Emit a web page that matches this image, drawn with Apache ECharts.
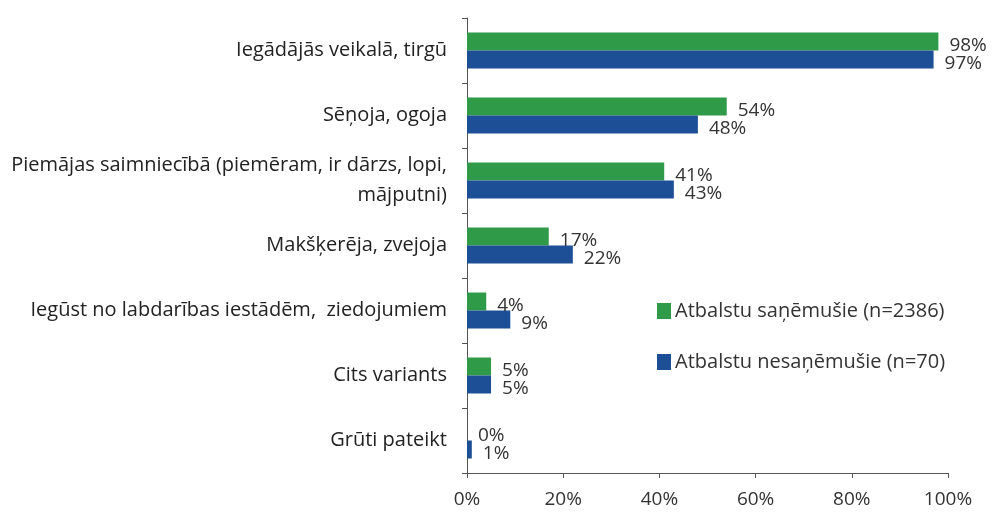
<!DOCTYPE html>
<html>
<head>
<meta charset="utf-8">
<script src="https://cdn.jsdelivr.net/npm/echarts@6/dist/echarts.min.js"></script>
<style>
  html,body{margin:0;padding:0;background:#fff;}
  #chart{width:995px;height:521px;}
</style>
</head>
<body>
<div id="chart"></div>
<script>
  // kategorijas
  var categories=[
    "Iegādājās veikalā, tirgū",
    "Sēņoja, ogoja",
    "Piemājas saimniecībā (piemēram, ir dārzs, lopi,\nmājputni)",
    "Makšķerēja, zvejoja",
    "Iegūst no labdarības iestādēm,  ziedojumiem",
    "Cits variants",
    "Grūti pateikt"
  ];
  var seriesNames=["Atbalstu saņēmušie (n=2386)","Atbalstu nesaņēmušie (n=70)"];
  var received=[98,54,41,17,4,5,0];
  var notReceived=[97,48,43,22,9,5,1];
  var xTicks=[0,20,40,60,80,100];

  var labelStyle={
    show:true,
    position:"right",
    distance:8,
    offset:[3,4],
    color:"#333",
    fontSize:19,
    fontFamily:"Open Sans",
    formatter:"{c}%"
  };

  var chart=echarts.init(document.getElementById("chart"));
  chart.setOption({
    animation:false,
    grid:{left:467,right:47,top:18,bottom:48,containLabel:false},
    legend:{
      orient:"vertical",
      left:652,
      top:296,
      itemWidth:14,
      itemHeight:16,
      itemGap:31,
      icon:"rect",
      textStyle:{fontSize:20,color:"#333",fontFamily:"Open Sans",padding:[0,0,0,-1]},
      data:seriesNames
    },
    xAxis:{
      type:"value",
      min:xTicks[0],
      max:xTicks[xTicks.length-1],
      interval:20,
      splitLine:{show:false},
      axisLine:{show:true,lineStyle:{color:"#555"}},
      axisTick:{show:true,length:5,lineStyle:{color:"#555"}},
      axisLabel:{
        fontSize:19,
        color:"#333",
        fontFamily:"Open Sans",
        margin:17,
        formatter:"{value}%"
      }
    },
    yAxis:{
      type:"category",
      inverse:true,
      data:categories,
      axisLine:{show:true,lineStyle:{color:"#555"}},
      axisTick:{show:true,length:5,lineStyle:{color:"#555"}},
      axisLabel:{
        fontSize:20,
        color:"#222",
        fontFamily:"Open Sans",
        margin:20,
        align:"right",
        lineHeight:30
      }
    },
    series:[
      {
        name:seriesNames[0],
        type:"bar",
        data:received,
        barWidth:18,
        barGap:"0%",
        itemStyle:{color:"#2f9a48"},
        label:labelStyle
      },
      {
        name:seriesNames[1],
        type:"bar",
        data:notReceived,
        barWidth:18,
        itemStyle:{color:"#1c4f95"},
        label:labelStyle
      }
    ]
  });
</script>
</body>
</html>
